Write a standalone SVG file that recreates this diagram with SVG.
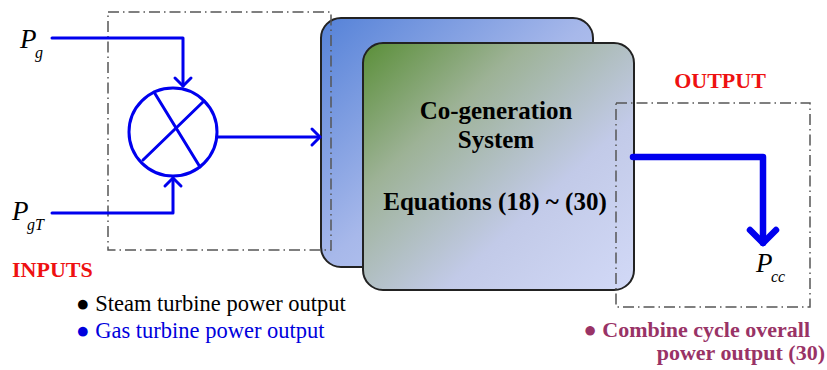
<svg xmlns="http://www.w3.org/2000/svg" width="827" height="370" viewBox="0 0 827 370">
<defs>
<style>
.dd{fill:none;stroke:#555;stroke-width:1.5;stroke-dasharray:11 4 1.5 4}
.bl{fill:none;stroke:#0000ee;stroke-width:3;stroke-linecap:round;stroke-linejoin:round}
.box{stroke:#222;stroke-width:2}
text{font-family:'Liberation Serif','Times New Roman','DejaVu Serif',serif}
.sym{font-style:italic;fill:#000}
.lbl{font-weight:bold}
</style>
<linearGradient id="gBack" x1="0" y1="0" x2="1" y2="1">
<stop offset="0" stop-color="#5582d8"/>
<stop offset="0.5" stop-color="#a7b8ea"/>
<stop offset="1" stop-color="#ccd6f5"/>
</linearGradient>
<linearGradient id="gFront" x1="0" y1="0" x2="1" y2="1">
<stop offset="0" stop-color="#5a8f38"/>
<stop offset="0.3" stop-color="#9db296"/>
<stop offset="0.65" stop-color="#c2cae8"/>
<stop offset="1" stop-color="#d2d9f7"/>
</linearGradient>
</defs>
<rect width="827" height="370" fill="#fff"/>

<g id="backBox"><rect class="box" x="321" y="18" width="272" height="249" rx="20" fill="url(#gBack)"/></g>
<g id="frontBox">
<rect class="box" x="363" y="43" width="271" height="247" rx="20" fill="url(#gFront)"/>
<text class="lbl" x="496" y="119" font-size="25" text-anchor="middle" font-family="Liberation Serif, serif">Co-generation</text>
<text class="lbl" x="496" y="148" font-size="25" text-anchor="middle" font-family="Liberation Serif, serif">System</text>
<text class="lbl" x="495" y="210" font-size="25" text-anchor="middle" font-family="Liberation Serif, serif">Equations (18) ~ (30)</text>
</g>

<g id="inputsBox"><rect class="dd" x="108" y="12" width="223" height="238"/></g>
<g id="outputBox"><rect class="dd" x="616" y="103" width="194" height="204"/></g>

<g id="summer">
<circle class="bl" cx="173" cy="132" r="44"/>
<line class="bl" x1="154" y1="92" x2="200" y2="167"/>
<line class="bl" x1="204" y1="101" x2="143" y2="160"/>
</g>

<g id="connectors">
<polyline class="bl" points="52,38 183,38 183,86"/>
<polyline class="bl" points="175,78 183,86 191,78"/>
<polyline class="bl" points="52,213 173,213 173,178"/>
<polyline class="bl" points="165,186 173,178 181,186"/>
<line class="bl" x1="217" y1="137" x2="320" y2="137"/>
<polyline class="bl" points="312,129 320,137 312,145"/>
<polyline fill="none" stroke="#0000ee" stroke-width="6.5" stroke-linecap="round" stroke-linejoin="round" points="633,157 763,157 763,243"/>
<polyline fill="none" stroke="#0000ee" stroke-width="6.5" stroke-linecap="round" stroke-linejoin="round" points="750,230 763,243 776,230"/>
</g>

<g id="Pg"><text class="sym" x="20" y="48" font-size="27" font-family="Liberation Serif, serif">P</text><text class="sym" x="35" y="58" font-size="16" font-family="Liberation Serif, serif">g</text></g>
<g id="PgT"><text class="sym" x="12" y="220" font-size="27" font-family="Liberation Serif, serif">P</text><text class="sym" x="27" y="230" font-size="16" font-family="Liberation Serif, serif">gT</text></g>
<g id="Pcc"><text class="sym" x="756" y="272" font-size="27" font-family="Liberation Serif, serif">P</text><text class="sym" x="771" y="282" font-size="16" font-family="Liberation Serif, serif">cc</text></g>

<g id="inputsLabel">
<text class="lbl" x="12" y="277" font-size="22" fill="#ee1111" font-family="Liberation Serif, serif">INPUTS</text>
<text x="76" y="311" font-size="22.5" fill="#000" font-family="Liberation Serif, serif">● Steam turbine power output</text>
<text x="76" y="338" font-size="22.5" fill="#0000dd" font-family="Liberation Serif, serif">● Gas turbine power output</text>
</g>
<g id="outputLabel">
<text class="lbl" x="720" y="88" font-size="22" fill="#ee1111" text-anchor="middle" font-family="Liberation Serif, serif">OUTPUT</text>
<text class="lbl" x="810" y="337" font-size="22" fill="#993366" text-anchor="end" font-family="Liberation Serif, serif">● Combine cycle overall</text>
<text class="lbl" x="825" y="360" font-size="22" fill="#993366" text-anchor="end" font-family="Liberation Serif, serif">power output (30)</text>
</g>
</svg>
